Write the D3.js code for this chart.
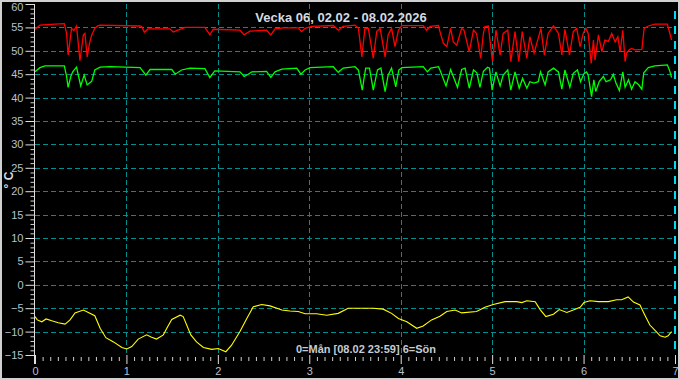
<!DOCTYPE html>
<html>
<head>
<meta charset="utf-8">
<script src="https://cdn.jsdelivr.net/npm/d3@7"></script>
<style>
  html, body { margin: 0; padding: 0; background: #c8c8c8; }
  svg { display: block; }
</style>
</head>
<body>
<svg width="680" height="380"></svg>
<script>
// [timme i veckan, °C]
var redTemps = [[0,54.6],[1.3,55.5],[5.2,55.7],[7.7,55.8],[8.3,53.7],[8.7,49.1],[9.6,54.8],[10.2,54.3],[10.9,55.3],[11.8,47.9],[12.7,53.4],[13.1,53.7],[13.7,48.7],[14.3,51.6],[14.9,53.4],[15.7,54.8],[16.4,55.3],[17.1,55.5],[27.6,55.3],[28.0,55.2],[28.7,54.0],[29.7,54.7],[35.4,54.7],[36.3,54.0],[37.2,54.3],[39.4,55.0],[44.6,55.0],[45.9,53.4],[46.8,54.6],[53.8,54.4],[54.9,53.4],[56.4,54.2],[60.8,54.4],[61.9,53.4],[63.0,54.7],[65.2,54.9],[69.1,54.9],[70.0,54.1],[70.9,54.8],[72.6,55.2],[78.3,55.4],[79.6,54.4],[80.9,55.2],[84.0,55.5],[84.9,54.8],[85.8,48.7],[86.6,54.8],[87.5,54.8],[88.8,48.4],[89.7,54.1],[90.6,54.8],[91.9,48.7],[92.7,53.4],[93.6,54.8],[94.5,50.9],[95.4,54.4],[96.3,55.4],[101.9,55.4],[102.8,54.4],[103.7,55.2],[105.9,55.4],[106.3,54.1],[107.2,51.6],[108.1,50.9],[109.1,54.8],[109.8,51.9],[110.7,51.2],[112.0,54.8],[112.6,54.4],[114.0,49.8],[115.1,54.4],[115.9,53.7],[117.0,48.4],[117.7,53.7],[118.1,55.2],[119.0,55.3],[120.1,47.7],[121.0,54.4],[122.1,49.1],[122.9,53.7],[124.1,54.4],[124.9,47.7],[126.0,54.1],[127.0,47.7],[127.9,54.1],[129.1,48.4],[129.9,53.0],[131.0,49.5],[132.1,52.7],[132.8,54.8],[133.7,49.1],[134.7,53.7],[136.1,55.3],[137.4,53.7],[138.3,49.1],[139.1,54.6],[140.3,49.1],[141.3,54.1],[142.2,54.8],[143.1,50.9],[143.9,53.7],[144.6,54.8],[145.2,53.7],[146.0,47.3],[146.6,52.3],[147.0,48.0],[147.9,53.4],[148.8,49.8],[149.6,52.3],[150.5,52.0],[151.4,53.7],[152.3,51.9],[153.0,53.0],[153.6,49.8],[154.3,54.4],[154.9,47.7],[155.3,49.5],[156.0,50.2],[156.6,50.5],[157.5,50.2],[159.3,50.3],[159.9,54.8],[161.0,55.3],[162.7,55.7],[166.0,55.7],[167.1,52.3]];

var greenTemps = [[0,45.5],[1.3,46.4],[2.6,46.8],[7.7,46.8],[8.3,44.5],[8.7,42.2],[9.4,44.5],[9.9,45.5],[10.9,46.5],[12.0,42.5],[12.9,44.8],[13.7,42.7],[14.9,43.5],[15.7,45.9],[17.1,46.5],[19.7,46.6],[27.6,46.4],[29.1,44.8],[30.2,46.0],[35.9,46.0],[36.8,45.0],[38.5,45.9],[40.7,46.3],[44.6,46.2],[45.9,44.3],[47.2,45.7],[53.8,45.5],[54.9,44.5],[56.0,45.0],[56.9,45.5],[60.8,45.6],[61.9,44.3],[63.0,45.5],[64.8,46.1],[68.7,46.3],[69.8,45.0],[70.9,45.9],[72.2,46.4],[78.3,46.6],[79.6,45.4],[80.9,46.3],[84.0,46.6],[84.9,45.9],[85.9,41.6],[86.8,46.3],[87.8,46.3],[88.8,41.6],[89.9,45.9],[90.8,46.3],[91.9,41.3],[92.7,44.8],[93.6,46.3],[94.7,42.3],[95.5,45.9],[96.3,46.4],[101.9,46.6],[103.0,45.5],[103.9,46.3],[105.9,46.6],[106.3,45.9],[107.9,42.5],[109.1,46.0],[110.0,44.1],[110.9,42.2],[112.0,46.0],[112.9,46.3],[114.0,42.0],[115.1,45.9],[116.0,45.3],[116.8,42.2],[117.7,45.6],[118.8,46.5],[119.3,46.3],[120.0,41.6],[121.0,45.5],[122.1,42.5],[122.9,44.8],[124.1,45.9],[124.9,41.6],[126.0,45.5],[127.1,42.0],[128.0,44.1],[129.1,42.0],[129.9,43.4],[131.0,43.1],[132.1,43.4],[132.7,45.5],[133.9,42.7],[134.7,45.5],[136.1,46.3],[137.4,45.5],[138.3,41.8],[139.1,45.9],[140.4,42.2],[141.3,45.2],[142.4,45.9],[143.2,43.4],[144.1,45.1],[144.8,45.5],[145.2,44.8],[146.1,40.2],[146.7,43.8],[147.2,41.3],[148.1,43.4],[149.2,44.5],[149.9,43.4],[151.1,43.8],[151.8,45.0],[152.5,43.1],[153.4,41.5],[154.3,45.5],[154.9,42.2],[155.8,43.8],[156.6,41.8],[157.5,43.4],[158.4,42.8],[159.3,41.8],[159.8,45.3],[161.0,46.4],[162.7,46.8],[166.0,47.0],[166.7,45.5],[167.1,44.3]];

var outdoorTemps = [[0,-6.8],[0.6,-7.5],[1.8,-7.9],[2.9,-7.3],[4.4,-7.7],[6.1,-8.1],[7.9,-8.4],[9.2,-7.5],[10.5,-6.0],[12.7,-5.4],[14.0,-5.9],[15.7,-6.6],[17.1,-9.3],[18.6,-11.3],[20.6,-12.2],[22.8,-13.4],[24.1,-13.7],[25.4,-13.2],[27.1,-11.6],[29.3,-10.7],[30.6,-11.2],[31.9,-11.6],[33.7,-10.7],[34.6,-9.3],[35.9,-7.4],[38.1,-6.5],[38.9,-6.8],[40.9,-10.7],[42.4,-12.2],[44.2,-13.4],[46.4,-13.8],[48.1,-13.6],[50.1,-14.3],[51.6,-12.9],[53.8,-10.0],[55.6,-7.2],[57.3,-4.7],[59.5,-4.2],[61.7,-4.5],[64.8,-5.4],[66.9,-5.6],[69.1,-5.7],[70.9,-6.2],[73.9,-6.2],[76.6,-6.5],[79.6,-6.1],[82.2,-5.0],[88.8,-5.0],[91.4,-5.2],[93.6,-6.1],[95.4,-7.2],[97.6,-7.9],[100.2,-9.3],[101.9,-8.8],[104.1,-7.5],[106.3,-6.7],[108.1,-5.7],[110.3,-5.4],[112.0,-6.0],[115.9,-5.7],[118.1,-4.8],[120.3,-4.2],[123.4,-3.6],[126.4,-3.6],[127.8,-3.8],[129.1,-3.4],[131.3,-3.6],[132.6,-5.3],[134.1,-6.8],[136.1,-6.3],[137.6,-5.3],[139.6,-5.9],[141.3,-5.4],[143.1,-4.8],[144.1,-3.8],[145.7,-3.4],[147.9,-3.6],[150.5,-3.6],[152.7,-3.2],[154.0,-3.2],[155.7,-2.6],[157.1,-3.7],[158.8,-4.3],[160.1,-6.5],[161.4,-8.6],[162.7,-9.7],[164.1,-10.9],[165.4,-11.2],[166.2,-10.9],[167.1,-10.0]];

var dayTicks = [0, 1, 2, 3, 4, 5, 6, 7];
var tempTicks = [-15, -10, -5, 0, 5, 10, 15, 20, 25, 30, 35, 40, 45, 50, 55, 60];
var title = "Vecka 06, 02.02 - 08.02.2026";
var footer = "0=Mån [08.02 23:59] 6=Sön";
var yLabel = "° C";

(function(){
  var svg = d3.select('svg');
  var left = 35, right = 675, top = 4, bottom = 355;
  var textCol = "#b4c2d0", gridCol = "#008e8e";

  var x = d3.scaleLinear().domain([0, 7]).range([left, right]);
  var y = d3.scaleLinear().domain([-15, 60]).range([bottom, top]);
  var xh = function(h){ return x(h / 24); };

  // ram
  svg.append("rect").attr("x", 0).attr("y", 0).attr("width", 680).attr("height", 380).attr("fill", "#d0d0d0");
  svg.append("rect").attr("x", 2).attr("y", 2).attr("width", 676).attr("height", 376).attr("fill", "#000");

  // rutnät
  svg.append("g").selectAll("line").data(tempTicks.filter(function(d){ return d > -15 && d < 60; }))
    .enter().append("line")
      .attr("x1", left).attr("x2", right - 2)
      .attr("y1", function(d){ return Math.round(y(d)) + 0.5; })
      .attr("y2", function(d){ return Math.round(y(d)) + 0.5; })
      .attr("stroke", gridCol).attr("stroke-dasharray", "5,3");
  svg.append("g").selectAll("line").data(dayTicks.filter(function(d){ return d > 0 && d < 7; }))
    .enter().append("line")
      .attr("x1", function(d){ return Math.round(x(d)) + 0.5; })
      .attr("x2", function(d){ return Math.round(x(d)) + 0.5; })
      .attr("y1", top).attr("y2", bottom)
      .attr("stroke", gridCol).attr("stroke-dasharray", "5,3");
  svg.append("line")
    .attr("x1", x(7)).attr("x2", x(7)).attr("y1", 11).attr("y2", bottom)
    .attr("stroke", "#00dcf4").attr("stroke-width", 2).attr("stroke-dasharray", "8,7");

  // y-axel
  var yAxis = d3.axisLeft(y).tickValues(tempTicks).tickSize(9).tickPadding(2);
  var gy = svg.append("g").attr("transform", "translate(" + (left - 0.5) + ",0)").call(yAxis);
  gy.select(".domain").remove();
  gy.append("line").attr("x1", 0).attr("x2", 0).attr("y1", top).attr("y2", bottom + 9).attr("stroke", "#e0e0e0");
  gy.selectAll(".tick line").attr("stroke", "#e0e0e0");
  gy.selectAll(".tick text").attr("fill", textCol).style("font", "11px 'Liberation Sans', Arial, sans-serif")
    .attr("dy", function(d){ return d === 60 ? "0.55em" : "0.32em"; });
  var yMinor = d3.axisLeft(y).tickValues(d3.range(-15, 61, 1).filter(function(d){ return d % 5; })).tickSize(4).tickFormat("");
  var gym = svg.append("g").attr("transform", "translate(" + (left - 0.5) + ",0)").call(yMinor);
  gym.select(".domain").remove();
  gym.selectAll(".tick line").attr("stroke", "#d0d0d0");

  // x-axel
  var xAxis = d3.axisBottom(x).tickValues(dayTicks).tickSize(9).tickPadding(3).tickFormat(d3.format("d"));
  var gx = svg.append("g").attr("transform", "translate(0," + bottom + ")").call(xAxis);
  gx.select(".domain").remove();
  gx.selectAll(".tick line").attr("stroke", "#e0e0e0");
  gx.selectAll(".tick text").attr("fill", textCol).style("font", "11px 'Liberation Sans', Arial, sans-serif");
  var xMinor = d3.axisBottom(x).tickValues(d3.range(0, 7, 1 / 12).filter(function(d, i){ return i % 12; })).tickSize(4).tickFormat("");
  var gxm = svg.append("g").attr("transform", "translate(0," + (bottom + 2) + ")").call(xMinor);
  gxm.select(".domain").remove();
  gxm.selectAll(".tick line").attr("stroke", "#d0d0d0");

  // linjer
  var line = d3.line().x(function(d){ return xh(d[0]); }).y(function(d){ return y(d[1]); });
  [[redTemps, "#ff0000", 1.3], [greenTemps, "#00ff00", 1.3], [outdoorTemps, "#ffff00", 1.1]].forEach(function(s){
    svg.append("path").datum(s[0]).attr("d", line)
      .attr("fill", "none").attr("stroke", s[1]).attr("stroke-width", s[2]);
  });

  // texter
  svg.append("text").attr("x", 341).attr("y", 22).attr("text-anchor", "middle")
    .attr("fill", "#d4dae0").style("font", "bold 13px 'Liberation Sans', Arial, sans-serif").text(title);
  svg.append("text").attr("x", 366).attr("y", 353).attr("text-anchor", "middle")
    .attr("fill", "#c4ccd4").style("font", "bold 11px 'Liberation Sans', Arial, sans-serif").text(footer);
  svg.append("text").attr("transform", "translate(13,180) rotate(-90)").attr("text-anchor", "middle")
    .attr("fill", "#d4dae0").style("font", "bold 12px 'Liberation Sans', Arial, sans-serif").text(yLabel);
})();
</script>
</body>
</html>
